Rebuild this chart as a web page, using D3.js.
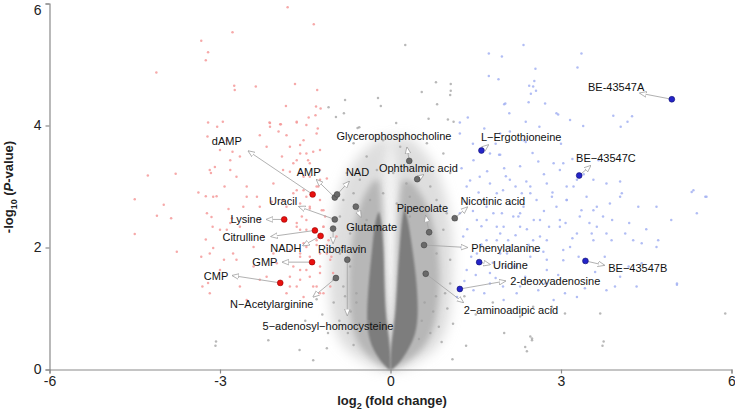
<!DOCTYPE html>
<html>
<head>
<meta charset="utf-8">
<script src="https://cdn.jsdelivr.net/npm/d3@7"></script>
<style>
  html, body { margin: 0; padding: 0; background: #fff; }
  svg { display: block; font-family: Arial, "Liberation Sans", sans-serif; }
</style>
</head>
<body>
<div id="chart"></div>
<script>
// volcano plot: log2 fold change vs -log10 p

const xTicks = [-6, -3, 0, 3, 6];
const yTicks = [0, 2, 4, 6];

// dense V core, each row [-log10p, left x, right x]
const coreLeft = [[0,-0.03,0],[0.15,-0.19,0],[0.37,-0.33,-0.01],[0.6,-0.40,-0.04],[0.92,-0.42,-0.09],[1.47,-0.38,-0.11],[2.01,-0.32,-0.12],[2.45,-0.27,-0.16],[2.58,-0.21,-0.20]];
const coreRight = [[0,0,0.03],[0.15,0,0.2],[0.37,0.01,0.34],[0.6,0.04,0.45],[0.92,0.09,0.49],[1.47,0.12,0.46],[2.01,0.16,0.38],[2.45,0.20,0.31],[2.63,0.24,0.25]];
// medium density band around the core
const midLeft = [[0,-0.05,0],[0.3,-0.55,0],[0.8,-0.72,-0.06],[1.5,-0.75,-0.1],[2.2,-0.68,-0.12],[2.8,-0.52,-0.15],[3.1,-0.3,-0.2]];
const midRight = [[0,0,0.05],[0.3,0,0.6],[0.8,0.06,0.82],[1.5,0.1,0.88],[2.2,0.12,0.82],[2.8,0.15,0.62],[3.1,0.2,0.35]];
// sparse light halo
const haloLeft = [[0,-0.2,0],[0.3,-0.85,0],[0.8,-1.05,-0.05],[1.5,-1.1,-0.08],[2.3,-1.05,-0.08],[3.0,-0.9,-0.08],[3.5,-0.6,-0.05],[3.8,-0.2,0]];
const haloRight = [[0,0,0.2],[0.3,0,0.85],[0.8,0.05,1.05],[1.5,0.08,1.1],[2.3,0.08,1.1],[3.0,0.08,0.95],[3.5,0.05,0.7],[3.8,0,0.35]];

// scattered background features [log2 fc, -log10 p]
const grayPts = [[-0.80,4.42],[-1.09,4.30],[-0.96,4.14],[-0.82,4.20],[-0.58,3.96],[-0.55,3.97],[-0.22,4.45],[-0.17,4.32],[0.26,5.32],[0.10,4.04],[0.55,4.55],[0.67,4.11],[0.80,4.71],[0.82,4.35],[1.06,4.68],[1.06,4.57],[1.05,4.50],[1.01,4.10],[1.11,4.06],
  [-0.65,3.71],[-0.42,3.49],[-0.13,3.76],[0.17,3.65],[0.64,3.71],[0.93,3.54],[-0.77,3.22],[-0.54,3.11],[-0.24,3.27],[0.05,3.22],[0.28,3.05],[0.70,3.00],[1.05,3.22],[-0.83,2.78],[-0.65,2.89],[-0.36,2.78],[-0.13,2.89],[0.11,2.72],[0.34,2.83],[0.81,2.78],[0.99,2.56],[-0.89,2.51],[-0.71,2.23],[-0.42,2.45],[0.34,2.51],[0.93,2.29],[1.16,2.45],[-0.89,1.90],[-0.71,1.69],[-0.54,2.01],[0.81,1.90],[1.05,1.80],[-0.83,1.36],[-0.60,1.25],[1.05,1.41],[0.96,1.25],[-1.01,1.47],
  [-3.08,0.39],[3.73,0.39],[2.40,0.30],[2.49,0.48],[-2.15,0.48],[-1.60,0.32],[-1.36,0.15],[-1.12,0.35],[1.09,0.17],[1.33,0.39],[-3.07,0.46],[5.89,0.92],[3.69,0.92],[3.75,0.46],[2.49,0.51],[2.37,0.37],[2.84,1.03],[3.07,0.92],[2.51,1.03],[2.28,0.87],[2.46,0.54],
  [-1.0,1.1],[-0.9,0.8],[-0.8,1.2],[-0.75,0.6],[-0.7,0.95],[-0.65,0.4],[-0.6,1.1],[-0.55,0.75],[0.5,0.5],[0.55,0.8],[0.6,1.1],[0.7,0.6],[0.75,0.95],[0.8,1.2],[0.85,0.7],[0.9,0.45],[1.0,1.0],[1.1,0.75],[-1.1,0.6],[-1.2,0.9],[-1.5,0.8],[-1.8,1.0],[-2.0,0.7],[1.5,0.9],[1.8,1.1],[2.0,0.6],[-1.3,1.15],[1.3,1.2]];

const redPts = [[-2.78,5.53],[-3.33,5.39],[-3.21,5.20],[-3.25,5.07],[-4.12,4.87],[-2.75,4.65],[-2.74,4.58],[-3.21,4.05],[-2.95,4.06],[-3.05,3.98],[-3.22,3.82],[-2.78,3.57],[-4.27,3.18],[-3.78,3.21],[-3.16,3.22],[-3.09,3.32],[-3.38,2.90],[-3.25,2.84],[-3.06,2.84],[-2.92,3.00],[-4.50,2.79],[-3.99,2.70],[-4.11,2.52],[-3.86,2.48],[-4.50,2.22],[-3.15,2.50],[-3.13,2.34],[-3.25,2.13],[-3.12,1.99],[-3.76,1.93],[-3.33,1.85],[-2.93,1.80],[-3.31,1.36],[-3.21,1.42],[-2.85,2.63],[-2.79,2.48],[-2.82,2.40],[-2.88,2.29],
  [-2.12,4.04],[-1.97,3.90],[-1.48,4.01],[-1.53,3.76],[-1.77,3.65],[-1.59,3.54],[-1.36,3.57],[-1.45,3.43],[-1.71,3.38],[-1.89,3.27],[-1.59,3.22],[-1.42,3.16],[-1.24,3.11],[-1.27,3.00],[-1.53,2.94],[-1.71,2.89],[-1.89,2.78],[-2.09,2.75],[-1.59,2.72],[-1.42,2.67],[-1.21,2.61],[-1.15,2.51],[-1.48,2.45],[-1.65,2.40],[-1.59,2.29],[-1.18,2.34],[-1.09,2.12],[-1.30,2.04],[-1.48,2.01],[-1.77,1.96],[-1.59,1.85],[-1.12,1.90],[-1.24,1.69],[-1.59,1.63],[-1.77,1.52],[-1.42,1.52],[-1.65,1.36],[-1.30,1.36],[-1.18,1.25],[-1.53,1.19],[-1.83,1.25],[-2.00,1.74],[-2.06,1.90],[-2.24,2.18],[-2.30,2.45],[-2.35,2.83],[-2.53,3.00],[-2.59,2.67],[-2.71,3.16],[-2.82,3.43],[-3.00,3.60],[-3.18,3.27],[-3.12,2.83],[-3.23,2.56],[-3.00,2.29],[-3.18,1.90],[-3.00,1.63],[-3.18,1.25],[-2.71,1.80],[-2.53,1.14],[-2.30,1.47],[-1.04,1.85],[-1.01,1.58],[-1.06,1.36],[-0.95,2.18],
  [-1.81,5.94],[-1.35,5.66],[-1.68,4.68],[-1.29,4.58],[-2.37,4.64],[-1.84,4.32],[-1.31,4.31],[-1.23,4.28],[-1.44,4.13],[-1.32,4.17],[-2.13,4.05],[-1.93,4.02],[-1.65,4.05],[-1.28,3.95],
  [-2.12,3.98],[-1.94,4.02],[-1.65,4.06],[-2.30,3.84],[-1.83,3.84],[-1.30,3.87],[-2.18,3.65],[-1.59,3.68],[-1.48,3.54],[-1.24,3.60],[-1.91,3.49],[-1.65,3.43],[-1.42,3.38],[-1.24,3.27],[-1.77,3.24],[-1.53,3.16],[-1.12,3.13],[-2.06,3.05],[-1.30,3.00],[-1.65,2.94],[-1.48,2.83],[-1.24,2.78],[-1.18,2.61],[-1.42,2.64],[-1.56,2.51],[-1.65,2.34],[-1.48,2.29],[-1.18,2.34],[-1.30,2.12],[-1.53,2.07],[-1.12,2.04],[-1.59,1.90],[-1.42,1.85],[-1.24,1.90],[-1.06,1.80],[-1.71,1.69],[-1.48,1.63],[-1.24,1.58],[-1.59,1.47],[-1.77,1.36],[-1.36,1.36],[-1.24,1.25],[-1.83,2.67],[-2.30,2.67],[-2.53,2.83],[-2.65,2.34],[-2.41,2.01],[-2.77,1.90],[-2.41,1.69],[-2.18,1.52],[-2.65,1.36],[-2.82,3.27],[-2.65,3.49],[-2.88,3.76]];

const bluePts = [[1.36,4.13],[1.22,4.05],[1.73,5.18],[1.96,5.13],[2.34,5.32],[1.73,4.81],[1.90,4.76],[2.55,4.93],[2.53,4.73],[2.44,4.65],[2.51,4.64],[2.56,4.57],[2.47,4.52],[2.00,4.35],[2.43,4.38],[2.38,4.06],[2.62,3.98],[2.95,4.18],
  [3.36,5.18],[3.29,4.95],[2.02,4.36],[2.09,4.20],[2.72,4.36],[3.39,3.99],[3.92,4.16],[4.25,4.15],[4.05,3.98],[4.17,4.06],[2.38,3.73],[1.91,3.52],[2.03,3.17],[2.39,3.08],[3.04,3.38],[3.28,3.11],[3.57,3.11],[3.66,3.43],[4.04,3.08],[4.07,2.89],[3.86,2.72],[5.30,2.91],[5.54,2.83],[5.39,2.56],[2.31,2.89],[2.57,2.78],[2.84,2.83],[3.10,2.78],[3.36,2.61],[3.63,2.67],[3.74,2.51],[4.36,2.67],[4.68,2.67],[4.94,2.45],[1.96,2.56],[2.25,2.51],[2.52,2.45],[2.79,2.34],[3.08,2.40],[3.28,2.23],[3.54,2.23],[3.89,2.12],[4.13,2.23],[4.42,2.07],[4.71,2.12],[2.07,2.12],[2.43,2.04],[2.69,1.93],[3.04,1.96],[3.31,1.85],[3.77,1.85],[4.19,1.69],[4.42,1.74],[5.04,1.39],[3.95,1.36],[3.07,1.25],[3.42,1.33],[2.72,1.41],[2.37,1.52],[2.02,1.69],[2.60,1.30],
  [1.93,3.52],[2.28,3.33],[2.60,3.41],[2.92,4.20],[3.16,4.09],[2.98,3.27],[2.75,3.05],[2.46,2.89],[2.10,2.72],[1.81,2.56],[3.10,2.78],[3.45,2.83],[3.80,3.05],[4.04,2.83],[3.33,2.51],[2.98,2.34],[2.63,2.45],[2.28,2.34],[1.93,2.23],[1.69,2.12],[2.10,2.01],[2.75,2.12],[3.16,2.01],[3.57,2.12],[3.80,2.23],[4.27,2.12],[4.68,2.01],[5.04,1.41],[5.33,2.94],[5.56,2.83],[3.04,1.79],[2.75,1.63],[2.46,1.85],[4.04,1.52],[4.33,1.36],[3.80,1.30],[3.28,1.19],[2.87,1.14],
  [1.63,2.78],[1.75,3.05],[1.98,2.94],[1.69,2.45],[1.87,2.34],[2.16,2.51],[2.34,2.67],[2.51,2.12],[1.93,1.90],[2.22,1.69],[1.75,1.58],[1.98,1.36],[2.22,1.25],[2.92,2.67],[3.22,3.00],[3.57,2.61],[3.63,2.34],
  [1.22,3.87],[1.46,3.43],[1.75,3.54],[1.93,3.87],[2.34,3.76],[1.34,3.00],[1.57,3.16],[1.87,2.89],[2.10,3.11],[1.22,2.56],[1.52,2.45],[1.69,2.67],[1.99,2.34],[2.28,2.56],[1.28,2.18],[1.52,1.90],[1.87,2.12],[2.16,1.69],[1.34,1.63],[1.46,1.30],[1.75,1.41],[1.99,1.14],[2.28,1.36],[1.17,1.19],[2.46,3.00],[2.63,2.18],[2.75,1.80],[2.98,2.45],[3.10,3.00],[2.87,3.38],
  [1.25,3.3],[1.4,3.1],[1.55,2.9],[1.3,2.75],[1.45,2.6],[1.6,2.35],[1.35,2.3],[1.25,2.0],[1.42,1.85],[1.6,2.05],[1.8,1.75],[1.3,1.45],[1.5,1.55],[1.65,1.25],[1.85,1.5],[2.05,1.9],[2.2,2.2],[2.4,2.3],[2.55,1.95],[2.7,2.6],[2.85,2.9],[2.2,3.0],[2.0,3.3],[1.7,3.25],[1.45,3.7],[1.65,3.95],[1.85,3.7],[2.1,3.9],[2.5,3.55],[2.7,3.2],[3.0,3.7],[3.2,3.45],[3.4,3.2],[3.5,2.4],[3.2,2.15],[2.95,1.55],[3.6,1.6],[3.9,2.45],[4.2,2.4],[4.5,2.3]];

// named features
const hitNames = ["dAMP","Lysine","Citrulline","NADH","GMP","CMP","AMP","NAD","Uracil","Glutamate","Riboflavin","5\u2212adenosyl\u2212homocysteine","N\u2212Acetylarginine","Glycerophosphocholine","Ophthalmic acid","Nicotinic acid","Pipecolate","Phenylalanine","2\u2212aminoadipic acid","L\u2212Ergothioneine","Uridine","2-deoxyadenosine","BE-43547A","BE\u221243547C","BE\u221243547B"];
const hitFold = [-1.37,-1.87,-1.33,-1.23,-1.38,-1.94,-0.98,-0.94,-0.98,-0.61,-1.01,-0.76,-0.96,0.33,0.47,1.13,0.68,0.59,0.62,1.60,1.56,1.22,4.95,3.32,3.43];
const hitP = [2.87,2.46,2.28,2.19,1.76,1.42,2.82,2.87,2.46,2.67,2.31,1.80,1.50,3.42,3.12,2.48,2.25,2.04,1.57,3.59,1.76,1.32,4.43,3.18,1.78];
const hitGroup = ["down","down","down","down","down","down","ns","ns","ns","ns","ns","ns","ns","ns","ns","ns","ns","ns","ns","up","up","up","up","up","up"];
// label placement in data units: text centre and arrow tip
const labelText = [[-2.88,3.74],[-2.54,2.47],[-2.58,2.18],[-1.84,2.00],[-2.21,1.76],[-3.07,1.54],[-1.44,3.23],[-0.58,3.23],[-1.89,2.76],[-0.33,2.33],[-0.85,1.97],[-1.10,0.71],[-2.09,1.07],[0.06,3.82],[0.49,3.30],[1.80,2.77],[0.56,2.64],[2.03,2.00],[2.12,0.98],[2.30,3.81],[2.11,1.71],[2.90,1.45],[3.97,4.63],[3.79,3.47],[4.35,1.66]];
const labelTip = [[-2.50,3.58],[-2.18,2.46],[-2.10,2.18],[-1.54,2.03],[-1.90,1.76],[-2.78,1.54],[-1.30,3.11],[-0.73,3.08],[-1.61,2.67],[-0.52,2.50],[-1.01,2.07],[-0.76,0.89],[-1.36,1.19],[0.29,3.64],[0.58,3.19],[1.35,2.66],[0.62,2.52],[1.35,2.00],[1.28,1.10],[1.72,3.68],[1.75,1.72],[2.02,1.45],[4.39,4.53],[3.52,3.34],[3.76,1.71]];

const groupFill = { down: "#e8100e", up: "#2424c8", ns: "#6a6a6a" };
const groupStroke = { down: "#9a0000", up: "#10106e", ns: "#444" };

const width = 735, height = 415;
const x = d3.scaleLinear().domain([-6, 6]).range([49.5, 731.5]);
const y = d3.scaleLinear().domain([0, 6]).range([369.5, 3.5]);

const svg = d3.select('#chart').append('svg')
  .attr('width', width).attr('height', height)
  .attr('viewBox', [0, 0, width, height]);

const defs = svg.append('defs');
defs.append('marker')
  .attr('id', 'tip')
  .attr('viewBox', '0 -5 10 10')
  .attr('refX', 9).attr('refY', 0)
  .attr('markerWidth', 7).attr('markerHeight', 7)
  .attr('markerUnits', 'userSpaceOnUse')
  .attr('orient', 'auto')
  .append('path')
  .attr('d', 'M0,-4L10,0L0,4Z')
  .attr('fill', '#fff')
  .attr('stroke', '#999')
  .attr('stroke-width', 1);

// soft edges so the bands read as point density, not shapes
[['soft6', 6], ['soft3', 3], ['soft1', 1.2]].forEach(([id, s]) => {
  defs.append('filter').attr('id', id)
    .attr('x', '-50%').attr('y', '-20%').attr('width', '200%').attr('height', '140%')
    .append('feGaussianBlur').attr('stdDeviation', s);
});

// density bands
const band = d3.area()
  .y(d => y(d[0]))
  .x0(d => x(d[1]))
  .x1(d => x(d[2]))
  .curve(d3.curveBasis);

const bands = [
  [haloLeft, '#c8c8c8', 0.6, 'soft6'], [haloRight, '#c8c8c8', 0.6, 'soft6'],
  [midLeft, '#9c9c9c', 0.6, 'soft3'], [midRight, '#9c9c9c', 0.6, 'soft3']
];
bands.forEach(([rows, fill, op, f]) => {
  svg.append('path').datum(rows).attr('d', band)
    .attr('fill', fill).attr('fill-opacity', op).attr('filter', `url(#${f})`);
});

const dots = (pts, fill, op) => {
  svg.append('g').selectAll('circle').data(pts).join('circle')
    .attr('cx', d => x(d[0]))
    .attr('cy', d => y(d[1]))
    .attr('r', 1.25)
    .attr('fill', fill)
    .attr('fill-opacity', op);
};
dots(grayPts, '#a0a0a0', 0.75);
dots(redPts, '#f59a9a', 0.85);
dots(bluePts, '#a3b2f2', 0.85);

[coreLeft, coreRight].forEach(rows => {
  svg.append('path').datum(rows).attr('d', band)
    .attr('fill', '#777').attr('fill-opacity', 0.92).attr('filter', 'url(#soft1)');
});

// axes
const xAxis = svg.append('g')
  .attr('transform', `translate(0,${y(0)})`)
  .call(d3.axisBottom(x).tickValues(xTicks).tickSize(4).tickPadding(3).tickFormat(d => String(d)));
const yAxis = svg.append('g')
  .attr('transform', `translate(${x(-6)},0)`)
  .call(d3.axisLeft(y).tickValues(yTicks).tickSize(4).tickPadding(4).tickFormat(d => String(d)));
[xAxis, yAxis].forEach(g => {
  g.select('.domain').attr('stroke', '#8a8a8a').attr('stroke-width', 1.2);
  g.selectAll('.tick line').attr('stroke', '#8a8a8a').attr('stroke-width', 1.2);
  g.selectAll('.tick text').attr('font-size', 14).attr('fill', '#222')
    .attr('font-family', 'Arial, "Liberation Sans", sans-serif');
});
// keep the top tick label inside the frame
yAxis.selectAll('.tick text').filter(d => d === 6).attr('dy', '0.75em');

// axis titles
const xt = svg.append('text')
  .attr('x', 392).attr('y', 405)
  .attr('text-anchor', 'middle')
  .attr('font-size', 13).attr('font-weight', 700).attr('fill', '#222');
xt.append('tspan').text('log');
xt.append('tspan').attr('font-size', 9).attr('dy', 4).text('2');
xt.append('tspan').attr('dy', -4).text(' (fold change)');

const yt = svg.append('text')
  .attr('transform', 'translate(13,187) rotate(-90)')
  .attr('text-anchor', 'middle')
  .attr('font-size', 13).attr('font-weight', 700).attr('fill', '#222');
yt.append('tspan').text('-log');
yt.append('tspan').attr('font-size', 9).attr('dy', 4).text('10');
yt.append('tspan').attr('dy', -4).text(' (');
yt.append('tspan').attr('font-style', 'italic').text('P');
yt.append('tspan').text('-value)');

// annotation arrows
const hits = hitNames.map((name, i) => ({
  name, fc: hitFold[i], p: hitP[i], group: hitGroup[i],
  tx: labelText[i][0], ty: labelText[i][1], ax: labelTip[i][0], ay: labelTip[i][1]
}));

svg.append('g').selectAll('line').data(hits).join('line')
  .attr('x1', d => x(d.fc)).attr('y1', d => y(d.p))
  .attr('x2', d => x(d.ax)).attr('y2', d => y(d.ay))
  .attr('stroke', '#a8a8a8').attr('stroke-width', 0.9)
  .attr('marker-end', 'url(#tip)');

svg.append('g').selectAll('circle').data(hits).join('circle')
  .attr('cx', d => x(d.fc)).attr('cy', d => y(d.p))
  .attr('r', 2.9)
  .attr('fill', d => groupFill[d.group])
  .attr('stroke', d => groupStroke[d.group])
  .attr('stroke-width', 0.6);

svg.append('g').selectAll('text').data(hits).join('text')
  .attr('x', d => x(d.tx)).attr('y', d => y(d.ty))
  .attr('text-anchor', 'middle')
  .attr('dominant-baseline', 'central')
  .attr('font-size', 11)
  .attr('fill', '#111')
  .text(d => d.name);
</script>
</body>
</html>
